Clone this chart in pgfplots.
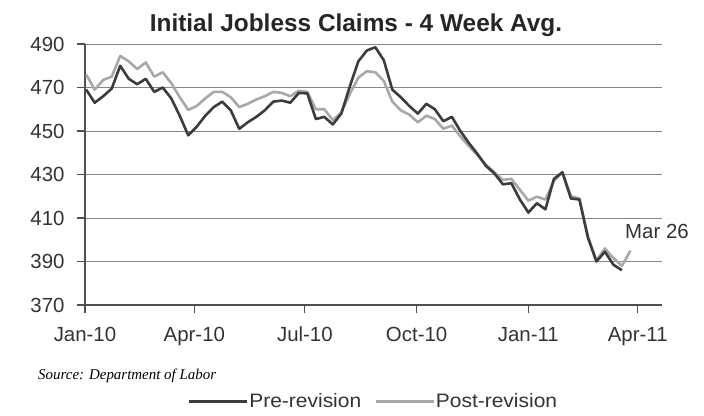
\documentclass[border=0pt]{standalone}
\usepackage{fontspec}
\setmainfont{Liberation Sans}
\newfontfamily\seriffont{Liberation Serif}
\newfontfamily\legfont[FakeStretch=1.08]{Liberation Sans}
\usepackage{pgfplots}
\usepackage{pgfplotstable}
\pgfplotsset{compat=1.18}
\definecolor{predark}{HTML}{3C3C3C}
\definecolor{postlight}{HTML}{A8A8A8}
\definecolor{gridgray}{HTML}{858585}
\definecolor{axisgray}{HTML}{505050}
\definecolor{labelgray}{HTML}{333333}

\pgfplotstableread{
day val
1 469
8 463
15 466
22 469.5
29 480
36 474
43 471.5
50 474
57 468
64 470
71 465
78 457
85 448
92 452
99 457
106 461
113 463.5
120 459.5
127 451
134 454
141 456.5
148 459.5
155 463.5
162 464
169 463
176 467.5
183 467.3
190 455.5
197 456.5
204 453
211 458
218 470.5
225 482
232 487
239 488.5
246 482.5
253 469
260 465.5
267 461.5
274 458
281 462.5
288 460
295 454.5
302 456.5
309 450
316 444.5
323 439.5
330 434
337 430.5
344 425.5
351 426
358 418.5
365 412.5
372 416.8
379 414
386 428
393 431
400 419
407 418.5
414 401
421 390
428 394.5
435 388.5
442 386
}\pretable

\pgfplotstableread{
day val
1 476
8 469
15 473.5
22 475
29 484.5
36 482
43 478.5
50 481.5
57 475
64 477
71 472
78 465.5
85 459.7
92 461.5
99 465
106 468
113 468
120 465.5
127 461
134 462.5
141 464.5
148 466
155 468
162 467.5
169 466
176 468.5
183 468
190 460
197 460
204 455
211 458.5
218 467
225 474.5
232 477.5
239 477
246 473
253 463.5
260 459.5
267 457.5
274 454
281 457
288 455.5
295 451
302 452.5
309 447.5
316 443
323 439
330 434.5
337 431
344 427.5
351 428
358 423
365 418
372 419.8
379 418.5
386 427
393 431
400 420
407 419
414 401.5
421 390.5
428 396
435 391.5
442 388
449 395
}\posttable

\begin{document}
\begin{tikzpicture}[x=1bp,y=1bp]
\path[use as bounding box] (-85,-110) rectangle (619,305);
\begin{axis}[
  at={(0,0)}, anchor=south west,
  scale only axis, width=577bp, height=261bp,
  xmin=0, xmax=475, ymin=370, ymax=490,
  ytick={370,390,...,490},
  xtick={0,90,181,273,365,455},
  xticklabels={Jan-10,Apr-10,Jul-10,Oct-10,Jan-11,Apr-11},
  axis x line*=bottom, axis y line*=left,
  axis line style={-, draw=axisgray, line width=1.3bp},
  ymajorgrids, grid style={gridgray, line width=0.9bp},
  tick align=outside, major tick length=8bp,
  tick style={axisgray, line width=1.2bp},
  ticklabel style={font=\fontsize{20.5}{20.5}\selectfont, text=labelgray},
  yticklabel style={xshift=-9bp},
  xticklabel style={text height=14bp, text depth=4bp, yshift=-11bp},
  /pgf/number format/assume math mode=true,
  clip=false,
  legend columns=2,
  legend style={at={(0.499,-0.37)}, anchor=center, draw=none, fill=none,
    font=\legfont\fontsize{19.5}{19.5}\selectfont, text=labelgray,
    /tikz/every even column/.append style={column sep=12bp},
    nodes={inner sep=1bp}},
  legend image code/.code={\draw[#1] (0bp,0bp) -- (58bp,0bp);},
]
\addplot[forget plot, color=postlight, line width=2.6bp, line join=round] table[x=day,y=val] {\posttable};
\addplot[forget plot, color=predark, line width=2.6bp, line join=round] table[x=day,y=val] {\pretable};
\addlegendimage{color=predark, line width=2.6bp}
\addlegendentry{Pre-revision}
\addlegendimage{color=postlight, line width=2.6bp}
\addlegendentry{Post-revision}
\end{axis}
\node[anchor=base, font=\fontsize{24.5}{24.5}\selectfont\bfseries, text=black!85] at (271,274) {Initial Jobless Claims - 4 Week Avg.};
\node[anchor=west, font=\fontsize{20.5}{20.5}\selectfont, text=labelgray, inner sep=0pt] at (540,74) {Mar 26};
\node[anchor=west, font=\seriffont\itshape\fontsize{15}{15}\selectfont, inner sep=0pt] at (-47,-71) {Source: Department of Labor};
\end{tikzpicture}
\end{document}
